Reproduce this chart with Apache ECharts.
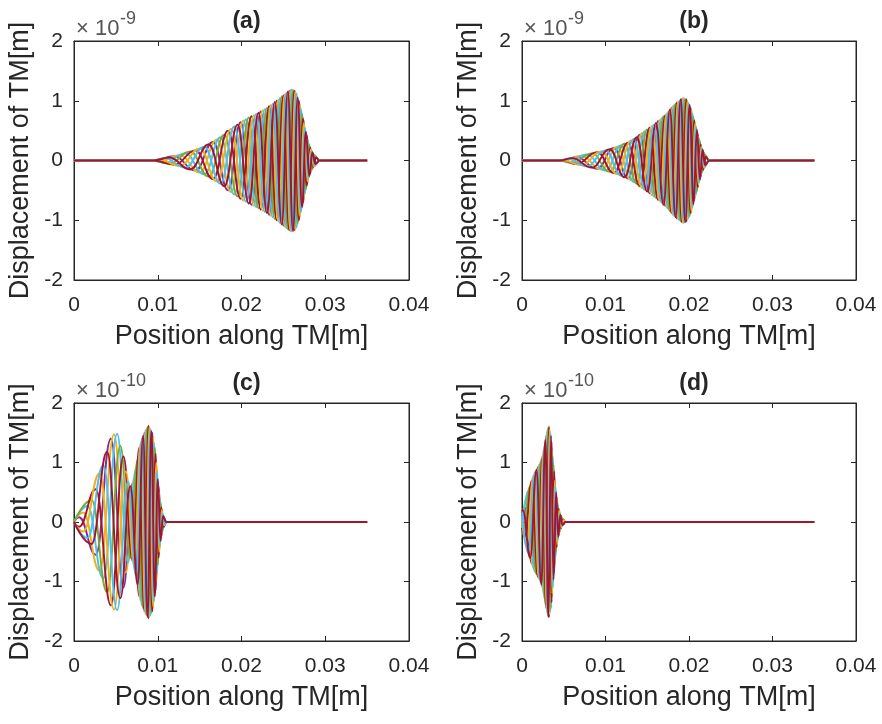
<!DOCTYPE html>
<html>
<head>
<meta charset="utf-8">
<script src="https://cdn.jsdelivr.net/npm/echarts@6/dist/echarts.min.js"></script>
<style>
  html, body { margin: 0; padding: 0; background: #fff; }
  #chart { width: 882px; height: 724px; }
</style>
</head>
<body>
<div id="chart"></div>
<script>
// panel labels and axis text
const panelTitles = ['(a)', '(b)', '(c)', '(d)'];
const exponents = ['-9', '-9', '-10', '-10'];
const xTicks = [0, 0.01, 0.02, 0.03, 0.04];
const yTicks = [-2, -1, 0, 1, 2];
const xName = 'Position along TM[m]';
const yName = 'Displacement of TM[m]';
const lineColors = ['#7E2F8E', '#EDB120', '#4DBEEE', '#77AC30', '#A2142F', '#EDB120', '#4DBEEE', '#A2142F'];

// curves: flat lists of [position in mm, displacement]
const curvesA = [
  [0,0, 9.5,0, 12.0,0.07, 14.5,-0.17, 16.6,0.31, 18.4,-0.5, 19.9,0.64, 21.2,-0.74, 22.3,0.82, 23.3,-0.91, 24.2,1.0, 25.0,-1.09, 25.7,1.17, 26.3,-1.17, 26.85,1.0, 27.35,-0.7, 27.8,0.42, 28.2,-0.22, 28.55,0.11, 28.9,-0.05, 29.3,0, 35,0],
  [0,0, 9.5,0, 10.1,-0.02, 12.63,0.09, 15.03,-0.2, 17.05,0.35, 18.78,-0.53, 20.23,0.67, 21.48,-0.76, 22.55,0.84, 23.53,-0.93, 24.4,1.02, 25.18,-1.11, 25.85,1.18, 26.44,-1.16, 26.98,0.93, 27.46,-0.63, 27.9,0.35, 28.29,-0.19, 28.64,0.1, 29.3,0, 35,0],
  [0,0, 9.5,0, 10.8,-0.04, 13.25,0.12, 15.55,-0.23, 17.5,0.39, 19.15,-0.57, 20.55,0.69, 21.75,-0.78, 22.8,0.86, 23.75,-0.95, 24.6,1.05, 25.35,-1.13, 26.0,1.19, 26.58,-1.12, 27.1,0.86, 27.58,-0.55, 28.0,0.3, 28.38,-0.16, 28.73,0.08, 29.3,0, 35,0],
  [0,0, 9.5,0, 11.38,-0.05, 13.88,0.15, 16.08,-0.27, 17.95,0.43, 19.53,-0.6, 20.88,0.72, 22.03,-0.8, 23.05,0.88, 23.98,-0.98, 24.8,1.07, 25.53,-1.15, 26.15,1.18, 26.71,-1.05, 27.23,0.78, 27.69,-0.48, 28.1,0.26, 28.46,-0.14, 28.81,0.06, 29.3,0, 35,0],
  [0,0, 9.5,0, 12.0,-0.07, 14.5,0.17, 16.6,-0.31, 18.4,0.5, 19.9,-0.64, 21.2,0.74, 22.3,-0.82, 23.3,0.91, 24.2,-1.0, 25.0,1.09, 25.7,-1.17, 26.3,1.17, 26.85,-1.0, 27.35,0.7, 27.8,-0.42, 28.2,0.22, 28.55,-0.11, 28.9,0.05, 29.3,0, 35,0],
  [0,0, 9.5,0, 10.1,0.02, 12.63,-0.09, 15.03,0.2, 17.05,-0.35, 18.78,0.53, 20.23,-0.67, 21.48,0.76, 22.55,-0.84, 23.53,0.93, 24.4,-1.02, 25.18,1.11, 25.85,-1.18, 26.44,1.16, 26.98,-0.93, 27.46,0.63, 27.9,-0.35, 28.29,0.19, 28.64,-0.1, 29.3,0, 35,0],
  [0,0, 9.5,0, 10.8,0.04, 13.25,-0.12, 15.55,0.23, 17.5,-0.39, 19.15,0.57, 20.55,-0.69, 21.75,0.78, 22.8,-0.86, 23.75,0.95, 24.6,-1.05, 25.35,1.13, 26.0,-1.19, 26.58,1.12, 27.1,-0.86, 27.58,0.55, 28.0,-0.3, 28.38,0.16, 28.73,-0.08, 29.3,0, 35,0],
  [0,0, 9.5,0, 11.38,0.05, 13.88,-0.15, 16.08,0.27, 17.95,-0.43, 19.53,0.6, 20.88,-0.72, 22.03,0.8, 23.05,-0.88, 23.98,0.98, 24.8,-1.07, 25.53,1.15, 26.15,-1.18, 26.71,1.05, 27.23,-0.78, 27.69,0.48, 28.1,-0.26, 28.46,0.14, 28.81,-0.06, 29.3,0, 35,0]
];

const curvesB = [
  [0,0, 5.0,0, 6.5,0.06, 9.0,-0.14, 11.0,0.21, 12.7,-0.3, 14.1,0.43, 15.3,-0.55, 16.3,0.66, 17.15,-0.76, 17.9,0.88, 18.55,-0.97, 19.15,1.03, 19.7,-1.02, 20.2,0.88, 20.65,-0.67, 21.05,0.45, 21.4,-0.27, 21.7,0.15, 22.0,-0.06, 22.4,0, 35,0],
  [0,0, 5.0,0, 7.13,0.08, 9.5,-0.15, 11.43,0.23, 13.05,-0.33, 14.4,0.46, 15.55,-0.58, 16.51,0.68, 17.34,-0.79, 18.06,0.91, 18.7,-0.99, 19.29,1.05, 19.83,-0.99, 20.31,0.84, 20.75,-0.62, 21.14,0.4, 21.48,-0.23, 21.78,0.12, 22.4,0, 35,0],
  [0,0, 4.5,0, 5.5,-0.03, 7.75,0.1, 10.0,-0.17, 11.85,0.25, 13.4,-0.36, 14.7,0.49, 15.8,-0.6, 16.73,0.71, 17.53,-0.82, 18.23,0.93, 18.85,-1.0, 19.43,1.04, 19.95,-0.96, 20.43,0.78, 20.85,-0.57, 21.23,0.36, 21.55,-0.2, 21.85,0.1, 22.4,0, 35,0],
  [0,0, 4.5,0, 6.0,-0.04, 8.38,0.12, 10.5,-0.19, 12.28,0.28, 13.75,-0.39, 15.0,0.52, 16.05,-0.63, 16.94,0.74, 17.71,-0.85, 18.39,0.95, 19.0,-1.02, 19.56,1.03, 20.08,-0.93, 20.54,0.73, 20.95,-0.52, 21.31,0.32, 21.63,-0.18, 21.93,0.08, 22.4,0, 35,0],
  [0,0, 5.0,0, 6.5,-0.06, 9.0,0.14, 11.0,-0.21, 12.7,0.3, 14.1,-0.43, 15.3,0.55, 16.3,-0.66, 17.15,0.76, 17.9,-0.88, 18.55,0.97, 19.15,-1.03, 19.7,1.02, 20.2,-0.88, 20.65,0.67, 21.05,-0.45, 21.4,0.27, 21.7,-0.15, 22.0,0.06, 22.4,0, 35,0],
  [0,0, 5.0,0, 7.13,-0.08, 9.5,0.15, 11.43,-0.23, 13.05,0.33, 14.4,-0.46, 15.55,0.58, 16.51,-0.68, 17.34,0.79, 18.06,-0.91, 18.7,0.99, 19.29,-1.05, 19.83,0.99, 20.31,-0.84, 20.75,0.62, 21.14,-0.4, 21.48,0.23, 21.78,-0.12, 22.4,0, 35,0],
  [0,0, 4.5,0, 5.5,0.03, 7.75,-0.1, 10.0,0.17, 11.85,-0.25, 13.4,0.36, 14.7,-0.49, 15.8,0.6, 16.73,-0.71, 17.53,0.82, 18.23,-0.93, 18.85,1.0, 19.43,-1.04, 19.95,0.96, 20.43,-0.78, 20.85,0.57, 21.23,-0.36, 21.55,0.2, 21.85,-0.1, 22.4,0, 35,0],
  [0,0, 4.5,0, 6.0,0.04, 8.38,-0.12, 10.5,0.19, 12.28,-0.28, 13.75,0.39, 15.0,-0.52, 16.05,0.63, 16.94,-0.74, 17.71,0.85, 18.39,-0.95, 19.0,1.02, 19.56,-1.03, 20.08,0.93, 20.54,-0.73, 20.95,0.52, 21.31,-0.32, 21.63,0.18, 21.93,-0.08, 22.4,0, 35,0]
];

const curvesC = [
  [0,0, 0.6,0.08, 2.6,-0.55, 4.4,1.4, 5.9,-1.1, 7.0,0.65, 7.8,-1.25, 8.4,1.5, 8.9,-1.62, 9.35,1.5, 9.75,-1.15, 10.1,0.6, 10.4,-0.25, 10.7,0.08, 11.0,0, 35,0],
  [0,0, 1.1,0.16, 3.05,-0.82, 4.78,1.47, 6.18,-0.85, 7.2,0.75, 7.95,-1.32, 8.53,1.55, 9.01,-1.6, 9.45,1.42, 9.84,-1.0, 10.18,0.5, 10.48,-0.2, 10.77,0.06, 11.0,0, 35,0],
  [0,0, 1.6,0.27, 3.5,-0.95, 5.15,1.48, 6.45,-0.68, 7.4,0.9, 8.1,-1.4, 8.65,1.57, 9.13,-1.57, 9.55,1.33, 9.93,-0.85, 10.25,0.4, 10.55,-0.15, 10.85,0.04, 11.1,0, 35,0],
  [0,0, 2.1,0.37, 3.95,-1.18, 5.53,1.28, 6.73,-0.6, 7.6,1.05, 8.25,-1.45, 8.78,1.6, 9.24,-1.53, 9.65,1.25, 10.01,-0.72, 10.33,0.32, 10.63,-0.1, 11.0,0, 35,0],
  [0,0, 0.6,-0.08, 2.6,0.55, 4.4,-1.4, 5.9,1.1, 7.0,-0.65, 7.8,1.25, 8.4,-1.5, 8.9,1.62, 9.35,-1.5, 9.75,1.15, 10.1,-0.6, 10.4,0.25, 10.7,-0.08, 11.0,0, 35,0],
  [0,0, 1.1,-0.16, 3.05,0.82, 4.78,-1.47, 6.18,0.85, 7.2,-0.75, 7.95,1.32, 8.53,-1.55, 9.01,1.6, 9.45,-1.42, 9.84,1.0, 10.18,-0.5, 10.48,0.2, 10.77,-0.06, 11.0,0, 35,0],
  [0,0, 1.6,-0.27, 3.5,0.95, 5.15,-1.48, 6.45,0.68, 7.4,-0.9, 8.1,1.4, 8.65,-1.57, 9.13,1.57, 9.55,-1.33, 9.93,0.85, 10.25,-0.4, 10.55,0.15, 10.85,-0.04, 11.1,0, 35,0],
  [0,0, 2.1,-0.37, 3.95,1.18, 5.53,-1.28, 6.73,0.6, 7.6,-1.05, 8.25,1.45, 8.78,-1.6, 9.24,1.53, 9.65,-1.25, 10.01,0.72, 10.33,-0.32, 10.63,0.1, 11.0,0, 35,0]
];

const curvesD = [
  [0,0.1, 0.3,0.25, 1.2,-0.7, 1.9,0.92, 2.45,-1.1, 2.9,1.45, 3.25,-1.6, 3.55,1.35, 3.85,-0.85, 4.15,0.42, 4.4,-0.22, 4.65,0.1, 4.9,-0.04, 5.2,0, 35,0],
  [0,-0.05, 0.53,0.4, 1.38,-0.78, 2.04,0.96, 2.56,-1.2, 2.99,1.52, 3.33,-1.55, 3.63,1.2, 3.93,-0.7, 4.21,0.38, 4.46,-0.2, 4.71,0.09, 4.96,-0.03, 5.2,0, 35,0],
  [0,-0.15, 0.75,0.52, 1.55,-0.84, 2.18,1.0, 2.68,-1.28, 3.08,1.57, 3.4,-1.5, 3.7,1.1, 4.0,-0.6, 4.28,0.3, 4.53,-0.15, 4.78,0.06, 5.2,0, 35,0],
  [0,-0.18, 0.1,-0.2, 0.98,0.6, 1.73,-0.88, 2.31,1.05, 2.79,-1.38, 3.16,1.6, 3.48,-1.45, 3.78,0.97, 4.08,-0.5, 4.34,0.25, 4.59,-0.12, 4.84,0.05, 5.2,0, 35,0],
  [0,-0.1, 0.3,-0.25, 1.2,0.7, 1.9,-0.92, 2.45,1.1, 2.9,-1.45, 3.25,1.6, 3.55,-1.35, 3.85,0.85, 4.15,-0.42, 4.4,0.22, 4.65,-0.1, 4.9,0.04, 5.2,0, 35,0],
  [0,0.05, 0.53,-0.4, 1.38,0.78, 2.04,-0.96, 2.56,1.2, 2.99,-1.52, 3.33,1.55, 3.63,-1.2, 3.93,0.7, 4.21,-0.38, 4.46,0.2, 4.71,-0.09, 4.96,0.03, 5.2,0, 35,0],
  [0,0.15, 0.75,-0.52, 1.55,0.84, 2.18,-1.0, 2.68,1.28, 3.08,-1.57, 3.4,1.5, 3.7,-1.1, 4.0,0.6, 4.28,-0.3, 4.53,0.15, 4.78,-0.06, 5.2,0, 35,0],
  [0,0.18, 0.1,0.2, 0.98,-0.6, 1.73,0.88, 2.31,-1.05, 2.79,1.38, 3.16,-1.6, 3.48,1.45, 3.78,-0.97, 4.08,0.5, 4.34,-0.25, 4.59,0.12, 4.84,-0.05, 5.2,0, 35,0]
];

const panelCurves = [curvesA, curvesB, curvesC, curvesD];

// layout of the four axes boxes
const boxes = [
  {left: 74, top: 41, width: 335, height: 239},
  {left: 522, top: 41, width: 334, height: 239},
  {left: 74, top: 403, width: 335, height: 238},
  {left: 522, top: 403, width: 334, height: 238}
];

const FONT = 'Liberation Sans, Arial, sans-serif';
const INK = '#262626';

function toPairs(flat) {
  const pts = [];
  for (let i = 0; i < flat.length; i += 2) {
    pts.push([flat[i] / 1000, flat[i + 1]]);
  }
  return pts;
}

const grid = [];
const xAxis = [];
const yAxis = [];
const series = [];
const title = [];
const graphic = [];

boxes.forEach((box, p) => {
  grid.push({
    left: box.left, top: box.top, width: box.width, height: box.height,
    show: true, borderColor: INK, borderWidth: 1, backgroundColor: '#fff'
  });

  const tickCommon = {
    axisLine: {show: true, onZero: false, lineStyle: {color: INK, width: 1}},
    axisTick: {show: true, inside: true, length: 5, lineStyle: {color: INK}},
    splitLine: {show: false}
  };

  xAxis.push(Object.assign({
    type: 'value', gridIndex: p, position: 'bottom',
    min: xTicks[0], max: xTicks[xTicks.length - 1], interval: xTicks[1] - xTicks[0],
    axisLabel: {
      fontSize: 21, color: INK, fontFamily: FONT, margin: 15,
      formatter: v => String(Number(v.toFixed(2)))
    },
    name: xName, nameLocation: 'middle', nameGap: 43,
    nameTextStyle: {fontSize: 27, color: INK, fontFamily: FONT}
  }, tickCommon));
  xAxis.push(Object.assign({
    type: 'value', gridIndex: p, position: 'top',
    min: xTicks[0], max: xTicks[xTicks.length - 1], interval: xTicks[1] - xTicks[0],
    axisLabel: {show: false}
  }, tickCommon));

  yAxis.push(Object.assign({
    type: 'value', gridIndex: p, position: 'left',
    min: yTicks[0], max: yTicks[yTicks.length - 1], interval: yTicks[1] - yTicks[0],
    axisLabel: {fontSize: 21, color: INK, fontFamily: FONT, margin: 11},
    name: yName, nameLocation: 'middle', nameGap: 40, nameRotate: 90,
    nameTextStyle: {fontSize: 27, color: INK, fontFamily: FONT}
  }, tickCommon));
  yAxis.push(Object.assign({
    type: 'value', gridIndex: p, position: 'right',
    min: yTicks[0], max: yTicks[yTicks.length - 1], interval: yTicks[1] - yTicks[0],
    axisLabel: {show: false}
  }, tickCommon));

  panelCurves[p].forEach((curve, k) => {
    series.push({
      type: 'line',
      xAxisIndex: 2 * p,
      yAxisIndex: 2 * p,
      data: toPairs(curve),
      smooth: 0.45,
      smoothMonotone: 'x',
      showSymbol: false,
      silent: true,
      animation: false,
      lineStyle: {color: lineColors[k % lineColors.length], width: 1.9}
    });
  });

  title.push({
    text: panelTitles[p],
    left: box.left + box.width / 2,
    textAlign: 'center',
    top: box.top - 36,
    textStyle: {fontSize: 23, fontWeight: 'bold', color: INK, fontFamily: FONT}
  });

  graphic.push({
    type: 'text', left: box.left + 2, top: box.top - 23,
    style: {text: '\u00d7 10', font: '22px ' + FONT, fill: '#555'}
  });
  graphic.push({
    type: 'text', left: box.left + 46, top: box.top - 31,
    style: {text: exponents[p], font: '18px ' + FONT, fill: '#555'}
  });
});

const chart = echarts.init(document.getElementById('chart'));
chart.setOption({
  animation: false,
  backgroundColor: '#fff',
  title: title,
  grid: grid,
  xAxis: xAxis,
  yAxis: yAxis,
  series: series,
  graphic: graphic
});
</script>
</body>
</html>
